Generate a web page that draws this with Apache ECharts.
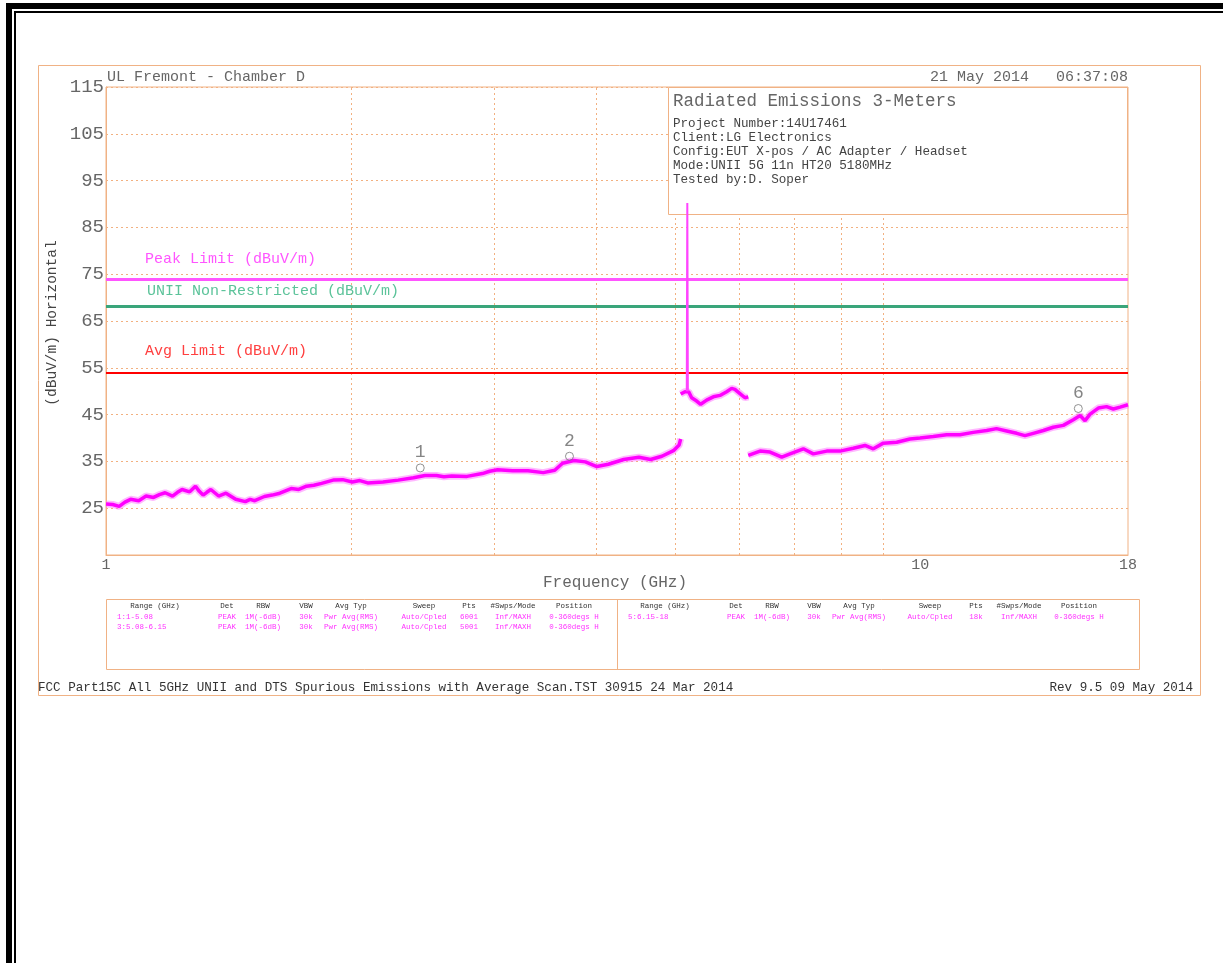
<!DOCTYPE html>
<html>
<head>
<meta charset="utf-8">
<script src="https://cdn.jsdelivr.net/npm/echarts@6/dist/echarts.min.js"></script>
<style>
  html, body { margin: 0; padding: 0; background: #fff; }
  #chart { width: 1223px; height: 963px; }
</style>
</head>
<body>
<div id="chart"></div>
<script>
// axis ranges
const xMin = 1
const xMax = 18
const yMin = 15
const yMax = 115
const yStep = 10
const gridFreqs = [2, 3, 4, 5, 6, 7, 8, 9]

// limits (dBuV/m)
const peakLimit = 74
const uniiLimit = 68.2
const avgLimit = 54

// range 1: 1 - 5.08 GHz
const seg1Freq = [1.0, 1.019, 1.038, 1.055, 1.072, 1.097, 1.12, 1.144, 1.163, 1.182, 1.207, 1.224, 1.24, 1.267, 1.288, 1.302, 1.316, 1.33, 1.345, 1.375, 1.404, 1.443, 1.483, 1.503, 1.523, 1.565, 1.6, 1.635, 1.688, 1.725, 1.763, 1.8, 1.84, 1.901, 1.953, 2.007, 2.05, 2.096, 2.189, 2.285, 2.386, 2.465, 2.546, 2.6, 2.659, 2.776, 2.899, 2.96, 3.027, 3.159, 3.299, 3.444, 3.558, 3.637, 3.756, 3.88, 4.008, 4.14, 4.323, 4.514, 4.665, 4.817, 4.977, 5.057, 5.08]
const seg1Level = [25.9, 25.8, 25.4, 26.3, 26.9, 26.6, 27.6, 27.3, 27.9, 28.3, 27.6, 28.4, 29.0, 28.5, 29.7, 28.6, 27.8, 28.4, 29.0, 27.6, 28.2, 26.9, 26.4, 26.9, 26.6, 27.5, 27.8, 28.2, 29.2, 29.0, 29.7, 29.9, 30.3, 31.0, 31.1, 30.6, 30.9, 30.4, 30.6, 31.0, 31.5, 32.0, 32.0, 31.7, 31.9, 31.8, 32.4, 32.9, 33.2, 33.0, 33.0, 32.6, 33.1, 34.6, 35.2, 34.9, 33.9, 34.4, 35.4, 35.9, 35.4, 36.1, 37.3, 38.5, 39.8]

// range 3: 5.08 - 6.15 GHz
const seg3Freq = [5.08, 5.142, 5.167, 5.196, 5.24, 5.315, 5.375, 5.467, 5.571, 5.677, 5.785, 5.868, 5.922, 6.007, 6.093, 6.15]
const seg3Level = [49.4, 49.9, 50.2, 49.9, 48.6, 47.9, 47.2, 48.1, 48.8, 49.1, 49.9, 50.6, 50.4, 49.5, 48.6, 48.8]

// carrier at 5180 MHz
const spikeFreq = [5.168, 5.176, 5.184]
const spikeLevel = [50.0, 90.2, 50.0]

// range 5: 6.15 - 18 GHz
const seg5Freq = [6.15, 6.358, 6.541, 6.761, 6.921, 7.186, 7.392, 7.678, 7.972, 8.277, 8.556, 8.759, 9.011, 9.357, 9.716, 9.995, 10.378, 10.777, 11.19, 11.62, 12.07, 12.41, 12.77, 13.14, 13.45, 13.77, 14.17, 14.57, 14.99, 15.42, 15.72, 15.94, 16.17, 16.55, 16.94, 17.27, 17.6, 18]
const seg5Level = [36.3, 37.2, 37.0, 35.9, 36.6, 37.7, 36.6, 37.2, 37.2, 37.8, 38.4, 37.7, 38.9, 39.1, 39.8, 40.0, 40.3, 40.7, 40.7, 41.2, 41.6, 42.0, 41.5, 41.0, 40.5, 41.0, 41.6, 42.3, 42.7, 43.9, 44.8, 43.7, 45.1, 46.4, 46.7, 46.2, 46.6, 47.1]

// markers
const markerIds = ['1', '2', '6']
const markerFreq = [2.432, 3.709, 15.64]
const markerLevel = [33.6, 36.1, 46.3]

// info box lines
const infoTitle = 'Radiated Emissions 3-Meters'
const infoLines = [
  'Project Number:14U17461',
  'Client:LG Electronics',
  'Config:EUT X-pos / AC Adapter / Headset',
  'Mode:UNII 5G 11n HT20 5180MHz',
  'Tested by:D. Soper'
]

// sweep settings table
const tableHeader = ['Range (GHz)', 'Det', 'RBW', 'VBW', 'Avg Typ', 'Sweep', 'Pts', '#Swps/Mode', 'Position']
const tableLeftRows = [
  ['1:1-5.08', 'PEAK', '1M(-6dB)', '30k', 'Pwr Avg(RMS)', 'Auto/Cpled', '6001', 'Inf/MAXH', '0-360degs H'],
  ['3:5.08-6.15', 'PEAK', '1M(-6dB)', '30k', 'Pwr Avg(RMS)', 'Auto/Cpled', '5001', 'Inf/MAXH', '0-360degs H']
]
const tableRightRows = [
  ['5:6.15-18', 'PEAK', '1M(-6dB)', '30k', 'Pwr Avg(RMS)', 'Auto/Cpled', '18k', 'Inf/MAXH', '0-360degs H']
]

const ORANGE = '#f0b285'
const GRIDC = '#f2b080'
const MAG = '#ff00ff'
const GREY = '#666666'
const FONT = '"Liberation Mono", "DejaVu Sans Mono", monospace'

const zip = (xs, ys) => xs.map((x, i) => [x, ys[i]])

// column centres (px) for the two halves of the table
const leftCols = [155, 227, 263, 306, 351, 424, 469, 513, 574]
const rightCols = [665, 736, 772, 814, 859, 930, 976, 1019, 1079]

const txt = (text, x, y, opts = {}) => ({
  type: 'text',
  x, y,
  z: opts.z || 10,
  rotation: opts.rotation || 0,
  style: {
    text,
    fill: opts.color || GREY,
    font: (opts.size || 14) + 'px ' + FONT,
    textAlign: opts.align || 'left',
    textVerticalAlign: 'middle'
  }
})

const tableTexts = []
const addTable = (cols, rows, firstLeft) => {
  tableHeader.forEach((h, i) => tableTexts.push(txt(h, cols[i], 606, { size: 7.5, color: '#333', align: 'center' })))
  rows.forEach((row, r) => {
    row.forEach((cell, i) => {
      if (i === 0) tableTexts.push(txt(cell, firstLeft, 617 + r * 10, { size: 7.5, color: '#ff33ff' }))
      else tableTexts.push(txt(cell, cols[i], 617 + r * 10, { size: 7.5, color: '#ff33ff', align: 'center' }))
    })
  })
}
addTable(leftCols, tableLeftRows, 117)
addTable(rightCols, tableRightRows, 628)

const chart = echarts.init(document.getElementById('chart'))

const limitLabel = (text, color, dist) => ({
  show: true,
  formatter: text,
  position: 'insideStartTop',
  distance: dist,
  color,
  fontFamily: FONT,
  fontSize: 15
})

// each sweep range: a light pink halo under a magenta core, like the analyser's fuzzy trace
const traceSeries = (name, data) => [
  {
    name: name + ' halo',
    type: 'line',
    data,
    z: 4,
    showSymbol: false,
    symbol: 'none',
    lineStyle: { color: '#ff7dff', width: 7, opacity: 0.55 },
    silent: true
  },
  {
    name,
    type: 'line',
    data,
    z: 5,
    showSymbol: false,
    symbol: 'none',
    lineStyle: { color: MAG, width: 3.5 },
    silent: true
  }
]

const option = {
  animation: false,
  backgroundColor: '#fff',
  grid: {
    left: 106, top: 87, width: 1022, height: 468,
    show: true, borderColor: ORANGE, borderWidth: 1, backgroundColor: 'transparent'
  },
  xAxis: {
    type: 'log',
    logBase: 10,
    min: xMin,
    max: xMax,
    axisLine: { lineStyle: { color: ORANGE } },
    axisTick: { show: false },
    splitLine: { show: false },
    axisLabel: {
      color: GREY, fontFamily: FONT, fontSize: 15, margin: 3,
      showMinLabel: true, showMaxLabel: true,
      formatter: v => String(Math.round(v))
    }
  },
  yAxis: {
    type: 'value',
    min: yMin,
    max: yMax,
    interval: yStep,
    axisLine: { show: true, lineStyle: { color: ORANGE } },
    axisTick: { show: false },
    splitLine: { lineStyle: { color: GRIDC, type: [2, 3], width: 1 } },
    axisLabel: { showMinLabel: false, color: GREY, fontFamily: FONT, fontSize: 19, margin: 2 }
  },
  series: [
    {
      name: 'grid',
      type: 'line',
      data: [],
      z: 1,
      silent: true,
      markLine: {
        z: 1,
        silent: true,
        symbol: 'none',
        label: { show: false },
        lineStyle: { color: GRIDC, type: [2, 3], width: 1 },
        data: gridFreqs.map(f => ({ xAxis: f }))
      }
    },
    {
      name: 'limits',
      type: 'line',
      data: [],
      z: 2,
      silent: true,
      markLine: {
        silent: true,
        symbol: 'none',
        data: [
          { yAxis: peakLimit, lineStyle: { color: '#ff55ff', width: 3, type: 'solid' }, label: limitLabel('Peak Limit (dBuV/m)', '#ff55ff', [39, 12]) },
          { yAxis: uniiLimit, lineStyle: { color: '#3aa57a', width: 3, type: 'solid' }, label: limitLabel('UNII Non-Restricted (dBuV/m)', '#5cc39a', [41, 7]) },
          { yAxis: avgLimit, lineStyle: { color: '#ff0000', width: 2, type: 'solid' }, label: limitLabel('Avg Limit (dBuV/m)', '#ff4040', [39, 14]) }
        ]
      }
    },
    ...traceSeries('1:1-5.08', zip(seg1Freq, seg1Level)),
    ...traceSeries('3:5.08-6.15', zip(seg3Freq, seg3Level)),
    {
      name: 'carrier',
      type: 'line',
      data: zip(spikeFreq, spikeLevel),
      z: 5,
      showSymbol: false,
      symbol: 'none',
      lineStyle: { color: '#ff44ff', width: 2 },
      silent: true
    },
    ...traceSeries('5:6.15-18', zip(seg5Freq, seg5Level)),
    {
      name: 'markers',
      type: 'scatter',
      z: 6,
      data: zip(markerFreq, markerLevel),
      symbol: 'circle',
      symbolSize: 8,
      itemStyle: { color: 'rgba(255,255,255,0)', borderColor: '#777', borderWidth: 1 },
      label: {
        show: true,
        position: 'top',
        distance: 2,
        formatter: p => markerIds[p.dataIndex],
        color: GREY,
        fontFamily: FONT,
        fontSize: 18
      },
      silent: true
    }
  ],
  graphic: [
    // page frame
    { type: 'rect', z: 10, shape: { x: 6, y: 3, width: 1217, height: 6 }, style: { fill: '#000' } },
    { type: 'rect', z: 10, shape: { x: 14, y: 11, width: 1209, height: 2 }, style: { fill: '#000' } },
    { type: 'rect', z: 10, shape: { x: 6, y: 3, width: 6, height: 960 }, style: { fill: '#000' } },
    { type: 'rect', z: 10, shape: { x: 14, y: 11, width: 2, height: 952 }, style: { fill: '#000' } },
    // plot frame
    { type: 'rect', z: 0, shape: { x: 38.5, y: 65.5, width: 1162, height: 630 }, style: { fill: 'none', stroke: ORANGE, lineWidth: 1 } },
    // info box
    { type: 'rect', z: 3, shape: { x: 668.5, y: 87.5, width: 459, height: 127 }, style: { fill: '#fff', stroke: ORANGE, lineWidth: 1 } },
    txt(infoTitle, 673, 101, { size: 17.5, z: 3 }),
    ...infoLines.map((l, i) => txt(l, 673, 124 + i * 14, { size: 12.6, z: 3, color: '#444' })),
    // header
    txt('UL Fremont - Chamber D', 107, 77, { size: 15 }),
    txt('21 May 2014   06:37:08', 1128, 77, { size: 15, align: 'right' }),
    // axis names
    txt('(dBuV/m) Horizontal', 52, 323, { size: 14.5, align: 'center', rotation: Math.PI / 2, color: '#444' }),
    txt('Frequency (GHz)', 615, 583, { size: 16, align: 'center' }),
    // settings table
    { type: 'rect', z: 0, shape: { x: 106.5, y: 599.5, width: 1033, height: 70 }, style: { fill: 'none', stroke: ORANGE, lineWidth: 1 } },
    { type: 'line', z: 0, shape: { x1: 617.5, y1: 599.5, x2: 617.5, y2: 669.5 }, style: { stroke: ORANGE, lineWidth: 1 } },
    ...tableTexts,
    // footer
    txt('FCC Part15C All 5GHz UNII and DTS Spurious Emissions with Average Scan.TST 30915 24 Mar 2014', 38, 688, { size: 12.6, color: '#333' }),
    txt('Rev 9.5 09 May 2014', 1193, 688, { size: 12.6, color: '#333', align: 'right' })
  ]
}

chart.setOption(option)
</script>
</body>
</html>
